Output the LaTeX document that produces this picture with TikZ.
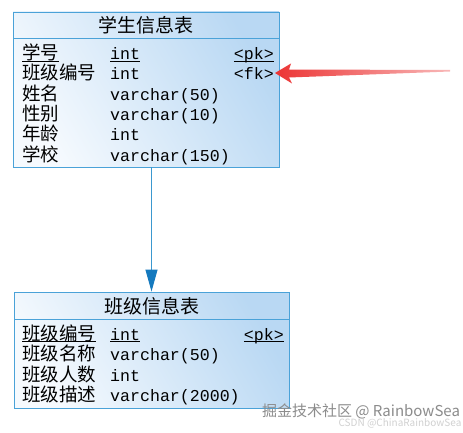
\documentclass[tikz,border=0pt]{standalone}
\usepackage{fontspec}
\usetikzlibrary{arrows.meta}
\newfontfamily\cjk{Noto Sans CJK SC}
\newfontfamily\monof{Liberation Mono}
\definecolor{tblborder}{HTML}{4AA2D8}
\definecolor{tbllight}{HTML}{F6FAFE}
\definecolor{tbldark}{HTML}{B9D8F3}
\definecolor{linkblue}{HTML}{3B98CF}
\definecolor{tipblue}{HTML}{1479BE}
\definecolor{redarrow}{HTML}{EC3434}
\tikzset{
  tbl/.style={draw=tblborder, line width=0.9pt, left color=tbllight, right color=tbldark, shading angle=120, inner sep=0pt},
  divider/.style={draw=tblborder, line width=0.9pt},
  uline/.style={draw=black, line width=0.7pt},
  ttl/.style={font=\cjk\fontsize{19}{19}\selectfont, inner sep=0pt},
  cname/.style={font=\cjk\fontsize{18.5}{18.5}\selectfont, anchor=base west, inner sep=0pt},
  ctype/.style={font=\monof\fontsize{16.6}{16.6}\selectfont, anchor=base west, inner sep=0pt},
  ckey/.style={font=\monof\fontsize{16.6}{16.6}\selectfont, anchor=base east, inner sep=0pt},
  link/.style={draw=linkblue, line width=1pt, -{Triangle[length=22pt,width=12pt,fill=tipblue,color=tipblue]}},
  wm/.style={font=\cjk\fontsize{15}{15}\selectfont, text=black!45, inner sep=0pt},
  wm2/.style={font=\cjk\fontsize{10}{10}\selectfont, text=black!18, inner sep=0pt}
}
\begin{document}
\begin{tikzpicture}[x=1pt,y=-1pt]
\useasboundingbox[fill=white] (0,0) rectangle (463,433);
% table 1
\node[tbl, minimum width=266pt, minimum height=155pt] (t1) at (146,89.5) {};
\coordinate (h1l) at (13,38);
\coordinate (h1r) at (279,38);
\draw[divider] (h1l) -- (h1r);
\node[ttl] (t1title) at (146,25) {学生信息表};
\node[cname] (a1) at (22,60) {学号};
\node[ctype] (b1) at (110,60) {int};
\node[ckey] (k1) at (274,60) {<pk>};
\draw[uline] ([yshift=-1.5pt]a1.base west) -- ([yshift=-1.5pt]a1.base east);
\draw[uline] ([yshift=-1.5pt]b1.base west) -- ([yshift=-1.5pt]b1.base east);
\draw[uline] ([yshift=-1.5pt]k1.base west) -- ([yshift=-1.5pt]k1.base east);
\node[cname] (a2) at (22,80) {班级编号};
\node[ctype] (b2) at (110,80) {int};
\node[ckey] (k2) at (274,80) {<fk>};
\node[cname] (a3) at (22,101) {姓名};
\node[ctype] (b3) at (110,101) {varchar(50)};
\node[cname] (a4) at (22,121) {性别};
\node[ctype] (b4) at (110,121) {varchar(10)};
\node[cname] (a5) at (22,141) {年龄};
\node[ctype] (b5) at (110,141) {int};
\node[cname] (a6) at (22,161) {学校};
\node[ctype] (b6) at (110,161) {varchar(150)};
% table 2
\node[tbl, minimum width=275pt, minimum height=116pt] (t2) at (151.5,350) {};
\coordinate (h2l) at (14,319);
\coordinate (h2r) at (289,319);
\draw[divider] (h2l) -- (h2r);
\node[ttl] (t2title) at (151.5,306) {班级信息表};
\node[cname] (c1) at (22,340) {班级编号};
\node[ctype] (d1) at (110,340) {int};
\node[ckey] (e1) at (284,340) {<pk>};
\draw[uline] ([yshift=-1.5pt]c1.base west) -- ([yshift=-1.5pt]c1.base east);
\draw[uline] ([yshift=-1.5pt]d1.base west) -- ([yshift=-1.5pt]d1.base east);
\draw[uline] ([yshift=-1.5pt]e1.base west) -- ([yshift=-1.5pt]e1.base east);
\node[cname] (c2) at (22,360) {班级名称};
\node[ctype] (d2) at (110,360) {varchar(50)};
\node[cname] (c3) at (22,381) {班级人数};
\node[ctype] (d3) at (110,381) {int};
\node[cname] (c4) at (22,401) {班级描述};
\node[ctype] (d4) at (110,401) {varchar(2000)};
% reference connector
\draw[link] (t1.south -| t2.north) -- (t2.north);
% red annotation arrow
\shade[left color=redarrow, right color=redarrow!35, shading angle=90] (275,73) -- (291,63.5) -- (289,69.5) -- (450,70) -- (450,71.5) -- (289,77.5) -- (292,83.5) -- cycle;
% watermarks
\node[wm] (wm1) at (361,411) {掘金技术社区 @ RainbowSea};
\node[wm2] (wm2) at (400,423) {CSDN @ChinaRainbowSea};
\end{tikzpicture}
\end{document}
